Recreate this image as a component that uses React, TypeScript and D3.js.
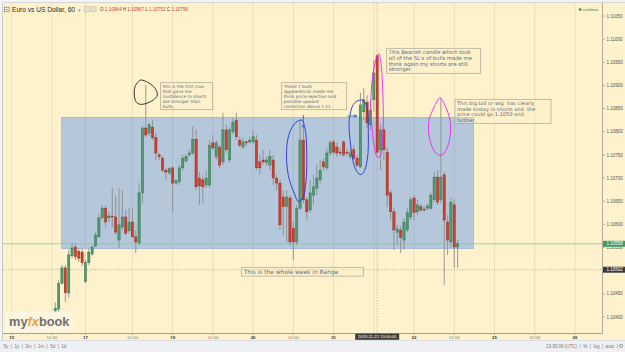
import React from "react";
import * as d3 from "d3";

// Hourly EUR/USD bars. Bar index counts trading hours from Fri 15 Nov 00:00
// (weekend removed: Sunday 17 opens at index 22, Monday 18 00:00 is index 24).
const FIRST_BAR = 13;
const opens = [
  1.10413, 1.10417, 1.10473, 1.10506, 1.10452, 1.10532, 1.10551, 1.10542, 1.1054, 1.10476,
  1.10517, 1.10536, 1.10553, 1.10573, 1.10614, 1.10635, 1.10614, 1.10618, 1.10616, 1.10566,
  1.10594, 1.10616, 1.10586, 1.10605, 1.10573, 1.1056, 1.10668, 1.10808, 1.10797, 1.1081,
  1.10787, 1.1075, 1.10743, 1.10717, 1.10711, 1.10722, 1.10689, 1.10692, 1.10722, 1.10737,
  1.1075, 1.10754, 1.10784, 1.107, 1.10696, 1.10685, 1.10685, 1.10776, 1.10746, 1.10767,
  1.10735, 1.10804, 1.10739, 1.108, 1.10825, 1.10782, 1.10767, 1.10778, 1.10778, 1.10778,
  1.10782, 1.10735, 1.10739, 1.10733, 1.10728, 1.10739, 1.107, 1.10689, 1.10659, 1.10638,
  1.10657, 1.10592, 1.10562, 1.10635, 1.10782, 1.10653, 1.10631, 1.10663, 1.10678, 1.10696,
  1.10735, 1.10722, 1.10754, 1.10778, 1.10767, 1.10756, 1.10778, 1.10756, 1.10746, 1.10761,
  1.10743, 1.10724, 1.10843, 1.10864, 1.10815, 1.10869, 1.10964, 1.10761, 1.10804, 1.10756,
  1.10668, 1.10627, 1.10583, 1.10588, 1.10566, 1.10588, 1.10616, 1.10657, 1.10627, 1.10638,
  1.10633, 1.10635, 1.10635, 1.10653, 1.10702, 1.10653, 1.10707, 1.10605, 1.10562, 1.10642,
  1.10551,
];
const highs = [
  1.10432, 1.1048, 1.10512, 1.10512, 1.10545, 1.1056, 1.10558, 1.10549, 1.10547, 1.10523,
  1.10547, 1.10555, 1.10583, 1.10622, 1.10642, 1.1064, 1.10627, 1.10679, 1.10663, 1.10679,
  1.10674, 1.10631, 1.10635, 1.10635, 1.10588, 1.10689, 1.10812, 1.10901, 1.10819, 1.10825,
  1.10797, 1.10754, 1.10748, 1.10722, 1.10724, 1.10726, 1.10698, 1.10728, 1.1075, 1.10752,
  1.10761, 1.10812, 1.10804, 1.10713, 1.10705, 1.10717, 1.10782, 1.10793, 1.10782, 1.10771,
  1.10841, 1.10815, 1.1081, 1.1083, 1.10841, 1.10789, 1.10787, 1.10782, 1.10789, 1.10804,
  1.10793, 1.1075, 1.10761, 1.10746, 1.10761, 1.1075, 1.10707, 1.10696, 1.10674, 1.10674,
  1.10663, 1.10605, 1.10642, 1.10825, 1.1083, 1.10659, 1.10696, 1.10707, 1.10728, 1.10739,
  1.10743, 1.10765, 1.10782, 1.10782, 1.10776, 1.10765, 1.10782, 1.10763, 1.10761, 1.10771,
  1.1075, 1.10884, 1.10894, 1.10879, 1.10869, 1.10955, 1.10967, 1.10815, 1.1081, 1.10765,
  1.10674, 1.10635, 1.10599, 1.10596, 1.10614, 1.10635, 1.10659, 1.10663, 1.10653, 1.10644,
  1.1064, 1.10644, 1.1067, 1.10713, 1.10717, 1.10873, 1.10713, 1.1062, 1.10657, 1.10653,
  1.10566,
];
const lows = [
  1.10409, 1.10411, 1.10469, 1.10432, 1.10441, 1.10527, 1.10523, 1.10519, 1.1051, 1.10473,
  1.10512, 1.10532, 1.10551, 1.10571, 1.10609, 1.10594, 1.10605, 1.10594, 1.10577, 1.10549,
  1.10588, 1.10577, 1.10581, 1.10571, 1.10538, 1.10555, 1.10646, 1.10789, 1.10791, 1.10782,
  1.10739, 1.10739, 1.10713, 1.10696, 1.10707, 1.10625, 1.10685, 1.10685, 1.10717, 1.10733,
  1.10746, 1.1075, 1.10674, 1.10642, 1.10646, 1.10679, 1.10679, 1.10761, 1.10739, 1.10722,
  1.10728, 1.10754, 1.10733, 1.10795, 1.10782, 1.10767, 1.10763, 1.10769, 1.10774, 1.10774,
  1.10717, 1.10707, 1.10728, 1.10726, 1.10717, 1.10685, 1.10674, 1.10588, 1.10577, 1.10562,
  1.10555, 1.10523, 1.10555, 1.10631, 1.10646, 1.10609, 1.10625, 1.10642, 1.10663, 1.10689,
  1.10717, 1.10717, 1.10748, 1.1075, 1.10746, 1.10748, 1.10746, 1.10748, 1.10741, 1.10739,
  1.10724, 1.10722, 1.10825, 1.10808, 1.10804, 1.10843, 1.10752, 1.10717, 1.10739, 1.10638,
  1.10609, 1.10545, 1.10555, 1.10538, 1.10545, 1.10583, 1.10609, 1.10609, 1.1062, 1.10627,
  1.10627, 1.10631, 1.10631, 1.10648, 1.10642, 1.10646, 1.10469, 1.10534, 1.10549, 1.10506,
  1.10506,
];
const closes = [
  1.10419, 1.10473, 1.10506, 1.10452, 1.10534, 1.10549, 1.1053, 1.10527, 1.10517, 1.10517,
  1.1054, 1.10551, 1.10577, 1.10614, 1.10635, 1.10605, 1.10618, 1.10616, 1.10583, 1.10599,
  1.10616, 1.10581, 1.10605, 1.10573, 1.10562, 1.10668, 1.10808, 1.10793, 1.10815, 1.10787,
  1.10754, 1.10746, 1.10717, 1.10713, 1.1072, 1.10689, 1.10694, 1.10722, 1.10743, 1.10746,
  1.10754, 1.10784, 1.10681, 1.10683, 1.10681, 1.107, 1.10771, 1.10765, 1.10776, 1.10728,
  1.10804, 1.10761, 1.10804, 1.10821, 1.10789, 1.10771, 1.10778, 1.10776, 1.10782, 1.10789,
  1.10722, 1.10722, 1.10735, 1.10739, 1.10746, 1.107, 1.10689, 1.10599, 1.10638, 1.10659,
  1.10562, 1.10562, 1.10635, 1.10782, 1.10653, 1.10627, 1.10668, 1.10681, 1.107, 1.10717,
  1.10724, 1.10754, 1.10776, 1.10756, 1.10754, 1.10754, 1.1075, 1.10754, 1.10754, 1.10743,
  1.10728, 1.10858, 1.10869, 1.10819, 1.10847, 1.10927, 1.10756, 1.10804, 1.10761, 1.10663,
  1.10627, 1.10588, 1.1059, 1.10571, 1.10605, 1.10625, 1.10653, 1.10625, 1.10642, 1.10631,
  1.10631, 1.1064, 1.10663, 1.10702, 1.10648, 1.10702, 1.10609, 1.10566, 1.10648, 1.10551,
  1.10558,
];

// time axis
const timeTicks = [0, 12, 22, 36, 48, 60, 72, 84, 96, 108, 120, 132, 144, 156, 168];
const timeLabels = ["15", "12:00", "17", "12:00", "19", "12:00", "20", "12:00", "21", "12:00", "22", "12:00", "25", "12:00", "26"];
// price axis
const priceTicks = [1.104, 1.1045, 1.105, 1.1055, 1.106, 1.1065, 1.107, 1.1075, 1.108, 1.1085, 1.109, 1.1095, 1.11, 1.1105];

// hovered bar and crosshair price
const hoverBar = 109;
const hoverLabel = "2019-11-21 13:00:00";
const crossPrice = 1.10502;

// drawn range rectangle: bar span and price span
const rangeBars = [14.9, 137.7];
const rangePrices = [1.10548, 1.10831];

const rangeNote = "This is the whole week in Range";
const clueNote = ["this is the first clue", "that gave me", "confidence to shorts", "are stronger than", "bulls."];
const bullsNote = ["These 2 bulls", "appearences made me", "think price rejection and", "possible upward", "correction above 1.11"];
const bearNote = ["This Bearish candle which took", "all of the SL's of bulls made me", "think again my shorts are still", "stronger."];
const tailNote = ["This big tail or wig  has clearly", "made tostay in shorts and  the", "price could go 1.1050 and", "further."];

const W = 625;
const H = 352;
const PLOT_L = 3;
const PLOT_R = 602;
const PLOT_T = 3;
const PLOT_B = 333;

const UP = "#4f9a6c";
const UP_EDGE = "#2f6b48";
const DOWN = "#cf3f2c";
const DOWN_EDGE = "#8c2a1b";
const NOTE_TEXT = "#5d6b7c";
const NOTE_EDGE = "#aaa596";
const SANS = "'Liberation Sans', Arial, sans-serif";
const NOTE_FONT = "'DejaVu Sans', Verdana, sans-serif";

const closedCurve = d3
  .line<[number, number]>()
  .x((d) => d[0])
  .y((d) => d[1])
  .curve(d3.curveCatmullRomClosed.alpha(0.5));

function loop(cx: number, cy: number, pts: [number, number][]) {
  return closedCurve(pts.map(([dx, dy]) => [cx + dx, cy + dy] as [number, number])) || "";
}

function NoteBox(props: { x: number; y: number; w: number; h: number; lines: string[]; size: number; lead: number }) {
  const { x, y, w, h, lines, size, lead } = props;
  return (
    <g>
      <rect x={x} y={y} width={w} height={h} fill="#fdf1cc" fillOpacity={0.35} stroke={NOTE_EDGE} strokeWidth={0.7} />
      {lines.map((s, i) => (
        <text key={i} x={x + 2} y={y + 1.5 + size * 0.85 + i * lead} fontFamily={NOTE_FONT} fontSize={size} fill={NOTE_TEXT} style={{ whiteSpace: "pre" }}>
          {s}
        </text>
      ))}
    </g>
  );
}

export default function App() {
  const x = d3.scaleLinear().domain([0, 168]).range([11.7, 11.7 + 168 * 3.353]);
  const y = d3.scaleLinear().domain([1.104, 1.1105]).range([316.95, 16]);
  const fmt = d3.format(".5f");

  const bars = opens.map((o, i) => ({
    t: FIRST_BAR + i,
    o,
    h: highs[i],
    l: lows[i],
    c: closes[i],
  }));
  const bw = 2.3;
  const hv = bars[hoverBar - FIRST_BAR];
  const last = bars[bars.length - 1];

  const bar = (t: number) => bars[t - FIRST_BAR];
  const crossLabelW = 44;

  return (
    <div style={{ position: "fixed", left: 0, top: 0, width: W, height: H }}>
      <svg width={W} height={H} style={{ display: "block" }}>
        <defs>
          <clipPath id="plotClip">
            <rect x={PLOT_L} y={PLOT_T} width={PLOT_R - PLOT_L} height={PLOT_B - PLOT_T} />
          </clipPath>
          <marker id="arrowBlue" viewBox="0 0 6 6" refX="5" refY="3" markerWidth="4" markerHeight="4" orient="auto">
            <path d="M0,0 L6,3 L0,6 Z" fill="#2f7fd8" />
          </marker>
        </defs>

        {/* page frame */}
        <rect x={0} y={0} width={W} height={H} fill="#f3f3f3" />
        <rect x={PLOT_L} y={PLOT_T} width={W - PLOT_L} height={340.5 - PLOT_T} fill="#fef2cd" />
        <line x1={PLOT_L - 0.5} x2={PLOT_L - 0.5} y1={PLOT_T} y2={340} stroke="#c9c9c9" />
        <line x1={PLOT_L} x2={W} y1={PLOT_T - 0.5} y2={PLOT_T - 0.5} stroke="#d6d6d6" />

        {/* vertical grid */}
        {timeTicks.map((t) => (
          <line key={t} x1={x(t)} x2={x(t)} y1={PLOT_T} y2={PLOT_B} stroke="#ecdfb6" strokeWidth={1} />
        ))}

        <g clipPath="url(#plotClip)">
          {/* weekly range rectangle */}
          <rect
            x={x(rangeBars[0])}
            y={y(rangePrices[1])}
            width={x(rangeBars[1]) - x(rangeBars[0])}
            height={y(rangePrices[0]) - y(rangePrices[1])}
            fill="rgb(94,146,236)"
            fillOpacity={0.45}
            stroke="#9fb4d2"
            strokeWidth={0.8}
          />

          {/* last price line */}
          <line x1={PLOT_L} x2={PLOT_R} y1={y(last.c)} y2={y(last.c)} stroke="#8cc4a2" strokeWidth={0.8} />
          {/* crosshair */}
          <line x1={PLOT_L} x2={PLOT_R} y1={y(crossPrice)} y2={y(crossPrice)} stroke="#8a8a8a" strokeWidth={0.6} strokeDasharray="1.2,1.5" />
          <line x1={x(hoverBar)} x2={x(hoverBar)} y1={PLOT_T} y2={PLOT_B} stroke="#8a8a8a" strokeWidth={0.6} strokeDasharray="1.2,1.5" />

          {/* candles */}
          {bars.map((b) => {
            const up = b.c >= b.o;
            const top = y(Math.max(b.o, b.c));
            const hgt = Math.max(0.8, Math.abs(y(b.o) - y(b.c)));
            return (
              <g key={b.t}>
                <line x1={x(b.t)} x2={x(b.t)} y1={y(b.h)} y2={y(b.l)} stroke="#8d8d8d" strokeWidth={0.9} />
                <rect
                  x={x(b.t) - bw / 2}
                  y={top}
                  width={bw}
                  height={hgt}
                  fill={up ? UP : DOWN}
                  stroke={up ? UP_EDGE : DOWN_EDGE}
                  strokeWidth={0.4}
                />
              </g>
            );
          })}

          {/* freehand marks */}
          <path
            d={loop(x(40), y(bar(40).h), [[-5.1, -5], [2.5, -2.3], [9.2, 3.3], [11.5, 10], [7.5, 15], [0.9, 18.3], [-5.8, 19.3], [-9.8, 16.7], [-11.5, 10], [-10.8, 1.7], [-7.5, -3.3]])}
            fill="none"
            stroke="#1c1c1c"
            strokeWidth={0.9}
          />
          <path
            d={loop(x(86), y(bar(86).h), [[1.6, -0.1], [4.9, 8.2], [6.6, 28.2], [5.9, 61.5], [2.6, 78.2], [-1.8, 81.5], [-5.1, 74.9], [-11.8, 54.9], [-13.4, 28.2], [-10.1, 11.5], [-4.1, 2.2]])}
            fill="none"
            stroke="#2430d8"
            strokeWidth={0.9}
          />
          <path
            d={loop(x(104), y(bar(104).h), [[2.3, 7.4], [6.3, 13.4], [7.9, 40], [6.9, 66.7], [2.9, 80], [-0.4, 81.7], [-5.4, 75], [-10.4, 46.7], [-11.1, 26.7], [-7.1, 11.7], [-2.1, 7.7]])}
            fill="none"
            stroke="#2430d8"
            strokeWidth={0.9}
          />
          <path
            d={loop(x(hoverBar), y(hv.h), [[1.8, -0.7], [4.1, 12], [5.5, 35.3], [6.1, 68.6], [4.8, 92], [2.8, 102], [0.1, 102.6], [-2.9, 92], [-5.5, 68.6], [-6.2, 42], [-4.5, 22], [-1.2, 5.3]])}
            fill="none"
            stroke="#f020f0"
            strokeWidth={0.9}
          />
          <path
            d={loop(x(128), y(bar(128).h), [[-0.9, -0.3], [4.1, 7.4], [9.1, 22.4], [9.1, 39.1], [5.1, 52.4], [0.1, 57.4], [-5.9, 54.1], [-11.6, 39.1], [-11.9, 22.4], [-7.6, 10.7], [-3.6, 3.1]])}
            fill="none"
            stroke="#f020f0"
            strokeWidth={0.9}
          />
          {/* arrows */}
          <line x1={x(87)} x2={x(87)} y1={y(bar(87).h) - 3} y2={y(bar(87).h) + 10} stroke="#2f7fd8" strokeWidth={1} markerEnd="url(#arrowBlue)" />
          <line x1={x(104) - 13} x2={x(104) - 3.5} y1={116} y2={116} stroke="#2f7fd8" strokeWidth={1} markerEnd="url(#arrowBlue)" />

          {/* notes */}
          <NoteBox x={160.7} y={82.7} w={52} h={27} lines={clueNote} size={4.3} lead={5} />
          <NoteBox x={281.7} y={82.7} w={65} h={27} lines={bullsNote} size={4.3} lead={5} />
          <NoteBox x={386.7} y={48.3} w={94} h={25} lines={bearNote} size={5.3} lead={5.6} />
          <NoteBox x={455} y={99.3} w={96} h={24} lines={tailNote} size={5.1} lead={5.6} />
          <NoteBox x={241.7} y={267.3} w={121.6} h={8.8} lines={[rangeNote]} size={5.9} lead={6} />
        </g>

        {/* logo */}
        <rect x={5} y={311.7} width={68} height={21} fill="#fdf6e2" fillOpacity={0.85} />
        <text x={9} y={326} fontFamily={SANS} fontWeight="bold" fontSize={12.8} fill="#6f6f6f">
          my<tspan fill="#f0a13a" fontStyle="italic">fx</tspan>book
        </text>

        {/* bottom axis */}
        <line x1={PLOT_L} x2={PLOT_R} y1={PLOT_B + 0.5} y2={PLOT_B + 0.5} stroke="#8e8a7e" strokeWidth={0.8} />
        {timeTicks.map((t, i) => {
          const isDay = !timeLabels[i].includes(":");
          // labels under the crosshair time tag are not shown
          const covered = Math.abs(x(t) - x(hoverBar)) < crossLabelW / 2 + 6;
          return (
            <g key={t}>
              <line x1={x(t)} x2={x(t)} y1={PLOT_B + 0.5} y2={PLOT_B + 2.2} stroke="#8e8a7e" strokeWidth={0.6} />
              {!covered && (
                <text
                  x={x(t)}
                  y={338.6}
                  textAnchor="middle"
                  fontFamily={SANS}
                  fontSize={4.4}
                  fontWeight={isDay ? "bold" : "normal"}
                  fill={isDay ? "#333" : "#777"}
                >
                  {timeLabels[i]}
                </text>
              )}
            </g>
          );
        })}
        <rect x={x(hoverBar) - crossLabelW / 2} y={333.6} width={crossLabelW} height={6.2} fill="#3d3d3d" />
        <text x={x(hoverBar)} y={338.3} textAnchor="middle" fontFamily={SANS} fontSize={4.2} fill="#fff">
          {hoverLabel}
        </text>

        {/* right axis */}
        <line x1={PLOT_R + 0.5} x2={PLOT_R + 0.5} y1={PLOT_T} y2={PLOT_B + 1} stroke="#a9a392" strokeWidth={0.9} />
        {priceTicks.map((p) => (
          <g key={p}>
            <line x1={PLOT_R + 1} x2={PLOT_R + 3} y1={y(p)} y2={y(p)} stroke="#8e8a7e" strokeWidth={0.6} />
            <text x={PLOT_R + 4.5} y={y(p) + 1.6} fontFamily={SANS} fontSize={4.5} fill="#555">
              {fmt(p)}
            </text>
          </g>
        ))}
        <rect x={PLOT_R + 1} y={y(last.c) - 3} width={22} height={6} fill="#3f9a66" />
        <text x={PLOT_R + 4.5} y={y(last.c) + 1.6} fontFamily={SANS} fontSize={4.5} fill="#fff">
          {fmt(last.c)}
        </text>
        <rect x={PLOT_R + 1} y={y(crossPrice) - 3} width={22} height={6} fill="#3a3a3a" />
        <text x={PLOT_R + 4.5} y={y(crossPrice) + 1.6} fontFamily={SANS} fontSize={4.5} fill="#fff">
          {fmt(crossPrice)}
        </text>

        {/* realtime flag */}
        <circle cx={580.2} cy={9.6} r={1.3} fill="#2e8b57" />
        <text x={583} y={11.2} fontFamily={SANS} fontSize={4.3} fill="#2e8b57">
          realtime
        </text>

        {/* header */}
        <rect x={4.5} y={7.2} width={4.6} height={4.6} fill="none" stroke="#666" strokeWidth={0.6} />
        <line x1={5.6} x2={8} y1={9.5} y2={9.5} stroke="#666" strokeWidth={0.6} />
        <text x={12} y={12} fontFamily={SANS} fontSize={6.6} fill="#2b2b2b">
          Euro vs US Dollar, 60
        </text>
        <text x={77.5} y={11.5} fontFamily={SANS} fontSize={4.5} fill="#999">
          ▾
        </text>
        <rect x={84.5} y={6.8} width={5} height={5} fill="#e6e2d4" stroke="#b8b4a6" strokeWidth={0.5} />
        <rect x={91} y={6.8} width={5} height={5} fill="#e6e2d4" stroke="#b8b4a6" strokeWidth={0.5} />
        <text x={100} y={11.4} fontFamily={SANS} fontSize={4.6} fill="#444" style={{ whiteSpace: "pre" }}>
          O <tspan fill="#d0402c">{fmt(hv.o)}</tspan> H <tspan fill="#d0402c">{fmt(hv.h)}</tspan> L{" "}
          <tspan fill="#d0402c">{fmt(hv.l)}</tspan> C <tspan fill="#d0402c">{fmt(hv.c)}</tspan>
        </text>

        {/* toolbar */}
        <rect x={0} y={340.5} width={W} height={11.5} fill="#eef0f3" />
        <line x1={0} x2={W} y1={340.5} y2={340.5} stroke="#d5d8dc" strokeWidth={0.8} />
        <text x={3.5} y={347.6} fontFamily={SANS} fontSize={4.5} fill="#777" style={{ whiteSpace: "pre" }}>
          {"5y  |  1y  |  3m  |  1m  |  5d  |  1d"}
        </text>
        <text x={618} y={347.6} textAnchor="end" fontFamily={SANS} fontSize={4.5} fill="#777" style={{ whiteSpace: "pre" }}>
          {"13:39:08 (UTC)  |  %  |  log  |  auto  |"}
        </text>
        <circle cx={621} cy={346} r={1.6} fill="none" stroke="#777" strokeWidth={0.7} />
      </svg>
    </div>
  );
}
